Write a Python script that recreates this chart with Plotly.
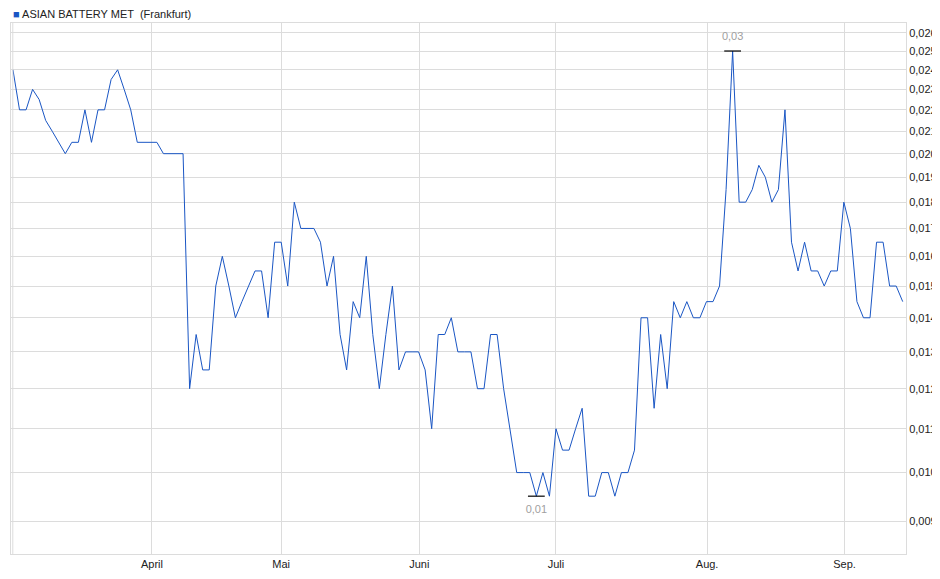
import plotly.graph_objects as go
import math

values = [.024,.022,.022,.023,.0225,.0215,.021,.0205,.020,.0205,.0205,.022,.0205,.022,.022,.0235,.024,.023,.022,.0205,
          .0205,.0205,.0205,.020,.020,.020,.020,.012,.0135,.0125,.0125,.015,.016,.015,.014,.0145,.015,.0155,.0155,.014,
          .0165,.0165,.015,.018,.017,.017,.017,.0165,.015,.016,.0135,.0125,.0145,.014,.016,.0135,.012,.0135,.015,.0125,
          .013,.013,.013,.0125,.011,.0135,.0135,.014,.013,.013,.013,
          .012,.012,.0135,.0135,.012,.011,.010,.010,.010,.0095,.010,.0095,.011,.0105,.0105,.011,.0115,.0095,.0095,.010,
          .010,.0095,.010,.010,.0105,.014,.014,.0115,.0135,.012,.0145,.014,.0145,.014,.014,.0145,.0145,.015,.0185,.025,
          .018,.018,.0185,.0195,.019,.018,.0185,.022,.0165,.0155,.0165,.0155,.0155,.015,.0155,.0155,.018,.017,.0145,.014,
          .014,.0165,.0165,.015,.015,.0145]
month_labels = ["April", "Mai", "Juni", "Juli", "Aug.", "Sep."]
month_pos = [21.25, 41.0, 62.1, 83.0, 106.1, 127.1]
y_ticks = [round(0.009 + 0.001 * k, 3) for k in range(18)]

x = list(range(len(values)))
imax = max(x, key=lambda i: values[i])
imin = min(x, key=lambda i: values[i])

fig = go.Figure()
fig.add_trace(go.Scatter(x=x, y=values, mode="lines", line=dict(color="#1a56c4", width=1), hoverinfo="skip"))
fig.add_trace(go.Scatter(x=[imax, imin], y=[values[imax], values[imin]], mode="markers+text",
                         marker=dict(symbol="line-ew-open", size=12, color="black", line=dict(color="black", width=1.2)),
                         text=["0,03", "0,01"], textposition=["top center", "bottom center"],
                         textfont=dict(color="#a0a0a0", size=11, family="Liberation Sans, Arial"), hoverinfo="skip"))

fig.update_layout(
    width=940, height=579, showlegend=False,
    margin=dict(l=3, r=42, t=15, b=33),
    plot_bgcolor="white", paper_bgcolor="white",
    font=dict(family="Liberation Sans, Arial", size=11, color="#222"),
    xaxis=dict(range=[-0.3, 136.5], tickvals=month_pos, ticktext=month_labels, showgrid=True, automargin=False,
               gridcolor="#dcdcdc", gridwidth=1, showline=True, linecolor="#dcdcdc", mirror=True,
               zeroline=False, ticks="", tickfont=dict(size=11)),
    yaxis=dict(type="log", range=[math.log10(0.008378), math.log10(0.02657)], side="right", automargin=False,
               tickvals=y_ticks, ticktext=[f"{v:.3f}".replace(".", ",") for v in y_ticks],
               showgrid=True, gridcolor="#dcdcdc", gridwidth=1, showline=True, linecolor="#dcdcdc",
               mirror=True, zeroline=False, ticks="", tickfont=dict(size=11)),
)
fig.add_shape(type="line", xref="paper", yref="paper", x0=0.002, x1=0.002, y0=0, y1=1,
              line=dict(color="#dcdcdc", width=1))
fig.add_annotation(xref="paper", yref="paper", x=0.0, y=1.0, yshift=9, xanchor="left", yanchor="middle",
                   showarrow=False, text="<span style='color:#1a56c4'>■</span> ASIAN BATTERY MET  (Frankfurt)",
                   font=dict(size=11, color="#222"))
fig.write_html("out.html")
